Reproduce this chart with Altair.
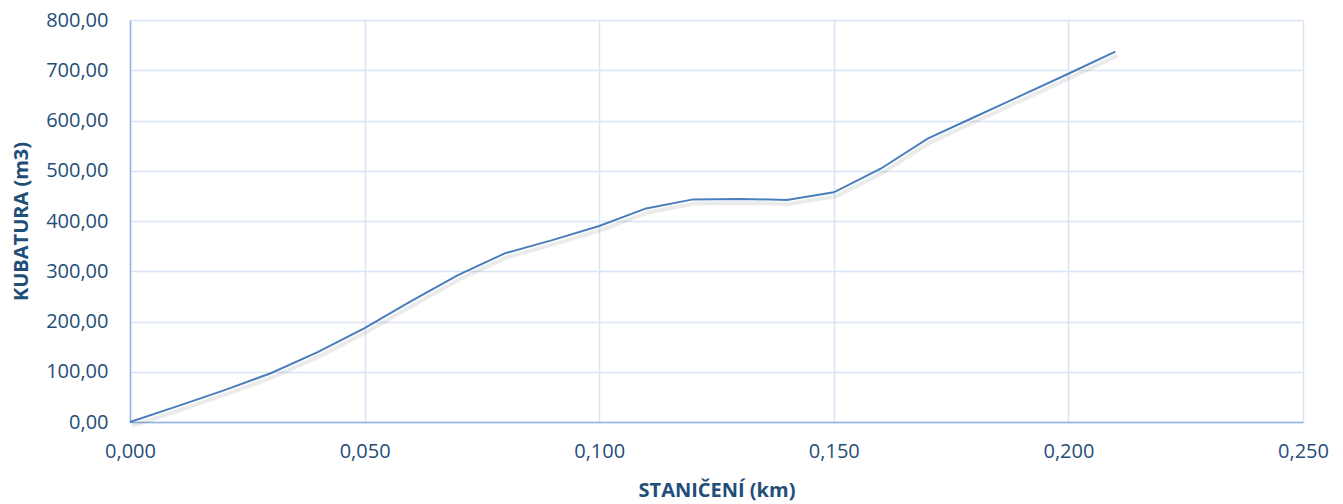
import altair as alt
import pandas as pd

stations = [0.00, 0.01, 0.02, 0.03, 0.04, 0.05, 0.06, 0.07, 0.08, 0.09, 0.10,
            0.11, 0.12, 0.13, 0.14, 0.15, 0.16, 0.17, 0.18, 0.19, 0.20, 0.21]
volumes = [0, 31, 63, 97, 139, 187, 241, 293, 336, 362, 390,
           425, 443, 444, 442, 457, 504, 564, 607, 650, 693, 737]
x_ticks = [0.0, 0.05, 0.10, 0.15, 0.20, 0.25]
y_ticks = [0, 100, 200, 300, 400, 500, 600, 700, 800]

df = pd.DataFrame({"stanice": stations, "kubatura": volumes})

TEXT = "#1F4E79"
LINE = "#4A7EBB"
GRID = "#D9E4F5"
DOMAIN = "#8FB4E3"
FONT = "Open Sans"

x_enc = alt.X(
    "stanice:Q",
    scale=alt.Scale(domain=[0, 0.25], nice=False, zero=True),
    axis=alt.Axis(
        values=x_ticks,
        title="STANIČENÍ (km)",
        labelExpr="replace(format(datum.value, '.3f'), '.', ',')",
        ticks=False,
        labelFlush=False,
        labelOverlap=False,
        labelPadding=19,
        titlePadding=19,
    ),
)
y_enc = alt.Y(
    "kubatura:Q",
    scale=alt.Scale(domain=[0, 800], nice=False),
    axis=alt.Axis(
        values=y_ticks,
        title="KUBATURA (m3)",
        labelExpr="replace(format(datum.value, '.2f'), '.', ',')",
        ticks=False,
        labelFlush=False,
        labelOverlap=False,
        labelPadding=22,
        titlePadding=14,
    ),
)

shadow = alt.Chart(df).mark_line(
    color="#000000", opacity=0.08, strokeWidth=4, xOffset=2, yOffset=4
).encode(x=x_enc, y=y_enc)

line = alt.Chart(df).mark_line(color=LINE, strokeWidth=2).encode(x=x_enc, y=y_enc)

chart = (
    alt.layer(shadow, line)
    .properties(
        width=1173,
        height=402,
        padding={"left": 122, "top": 12, "right": 30, "bottom": 86},
        autosize="none",
        background="white",
    )
    .configure_view(stroke=None)
    .configure_axis(
        labelFont=FONT,
        labelFontSize=20,
        labelColor=TEXT,
        titleFont=FONT,
        titleFontSize=20,
        titleFontWeight="bold",
        titleColor=TEXT,
        gridColor=GRID,
        gridWidth=1.5,
        gridOpacity=1,
        domainColor=DOMAIN,
        domainWidth=1.5,
    )
)

chart.save("out.html", embed_options={"renderer": "svg", "actions": False})
